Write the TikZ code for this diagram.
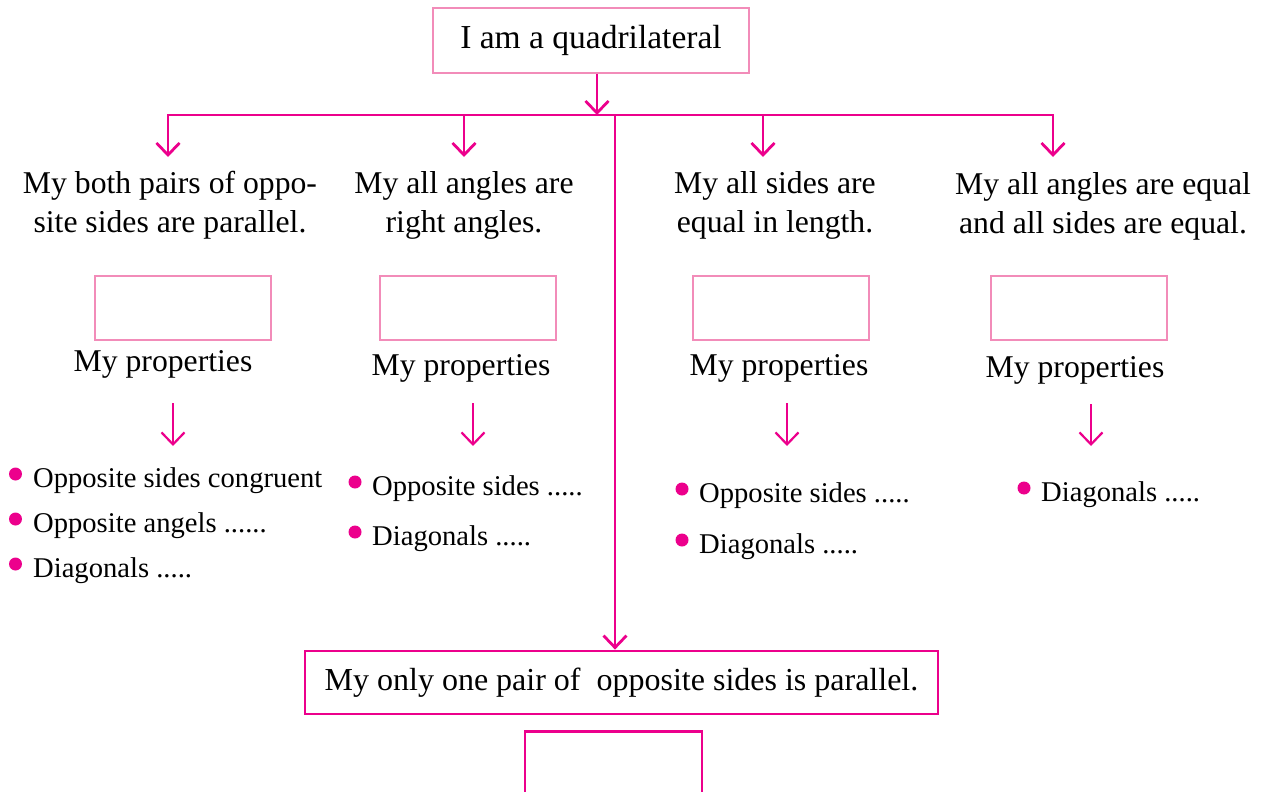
\documentclass[tikz,border=0pt]{standalone}
\usepackage{fontspec}
\setmainfont{Liberation Serif}
\usetikzlibrary{arrows.meta}
\definecolor{mag}{RGB}{236,0,140}
\definecolor{lpink}{RGB}{242,140,185}
\begin{document}
\begin{tikzpicture}[x=1pt,y=-1pt,
  conn/.style={draw=mag, line width=2.8pt},
  arr/.style={conn, -{Straight Barb[length=12pt,width=23pt]}},
  sarr/.style={draw=mag, line width=2.2pt, -{Straight Barb[length=12pt,width=23pt]}},
  lbox/.style={draw=lpink, line width=2.8pt, inner sep=0pt},
  mbox/.style={draw=mag, line width=2.8pt, inner sep=0pt},
  head/.style={align=center, font=\fontsize{31.7}{39}\selectfont, inner sep=0pt},
  prop/.style={font=\fontsize{31.7}{38}\selectfont, inner sep=0pt, anchor=base},
  item/.style={font=\fontsize{28.6}{34}\selectfont, inner sep=0pt, anchor=base west},
  dot/.style={circle, fill=mag, inner sep=0pt, minimum size=13pt}]

\useasboundingbox (0,0) rectangle (1272,792);

% top box
\node[lbox, minimum width=316pt, minimum height=65pt, font=\fontsize{33.5}{40}\selectfont] (top) at (591,40.5) {I am a quadrilateral};

% junctions
\coordinate (j) at (597,115);
\coordinate (hl) at (168,115);
\coordinate (hr) at (1053,115);
\coordinate (vj) at (615,115);
\coordinate (a1) at (168,157);
\coordinate (a2) at (464,157);
\coordinate (a3) at (763,157);
\coordinate (a4) at (1053,157);

\draw[arr] (top.south -| j) -- (j);
\draw[conn, line cap=rect] (hl) -- (hr);
\draw[arr] (hl) -- (a1);
\draw[arr] (hl -| a2) -- (a2);
\draw[arr] (hl -| a3) -- (a3);
\draw[arr] (hr) -- (a4);

% heads
\node[head] (h1) at (170,205) {My both pairs of oppo-\\site sides are parallel.};
\node[head] (h2) at (464,205) {My all angles are\\right angles.};
\node[head] (h3) at (775,205) {My all sides are\\equal in length.};
\node[head] (h4) at (1103,206) {My all angles are equal\\and all sides are equal.};

% empty boxes
\node[lbox, minimum width=176pt, minimum height=64pt] (e1) at (183,308) {};
\node[lbox, minimum width=176pt, minimum height=64pt] (e2) at (468,308) {};
\node[lbox, minimum width=176pt, minimum height=64pt] (e3) at (781,308) {};
\node[lbox, minimum width=176pt, minimum height=64pt] (e4) at (1079,308) {};

% my properties
\node[prop] (p1) at (163,371) {My properties};
\node[prop] (p2) at (461,375) {My properties};
\node[prop] (p3) at (779,375) {My properties};
\node[prop] (p4) at (1075,377) {My properties};

% small arrows
\coordinate (s1a) at (173,403); \coordinate (s1b) at (173,446);
\coordinate (s2a) at (473,403); \coordinate (s2b) at (473,446);
\coordinate (s3a) at (787,403); \coordinate (s3b) at (787,446);
\coordinate (s4a) at (1091,404); \coordinate (s4b) at (1091,446);
\draw[sarr] (s1a) -- (s1b);
\draw[sarr] (s2a) -- (s2b);
\draw[sarr] (s3a) -- (s3b);
\draw[sarr] (s4a) -- (s4b);

% bullet items
\node[dot] (d11) at (15.5,474) {};
\node[item] (i11) at (33,487) {Opposite sides congruent};
\node[dot] (d12) at (15.5,519) {};
\node[item] (i12) at (33,532) {Opposite angels ......};
\node[dot] (d13) at (15.5,564) {};
\node[item] (i13) at (33,577) {Diagonals .....};

\node[dot] (d21) at (355,482) {};
\node[item] (i21) at (372,495) {Opposite sides .....};
\node[dot] (d22) at (355,532) {};
\node[item] (i22) at (372,545) {Diagonals .....};

\node[dot] (d31) at (682,489) {};
\node[item] (i31) at (699,502) {Opposite sides .....};
\node[dot] (d32) at (682,540) {};
\node[item] (i32) at (699,553) {Diagonals .....};

\node[dot] (d41) at (1024,488) {};
\node[item] (i41) at (1041,501) {Diagonals .....};

% bottom
\node[mbox, minimum width=633pt, minimum height=63pt, font=\fontsize{32}{38}\selectfont] (bot) at (621.5,682.5) {My only one pair of~ opposite sides is parallel.};
\draw[arr] (vj) -- (bot.north -| vj);

\begin{scope}
\clip (0,0) rectangle (1272,792);
\node[mbox, minimum width=177pt, minimum height=90pt, anchor=north] (bb) at (613.5,730) {};
\end{scope}
\end{tikzpicture}
\end{document}
